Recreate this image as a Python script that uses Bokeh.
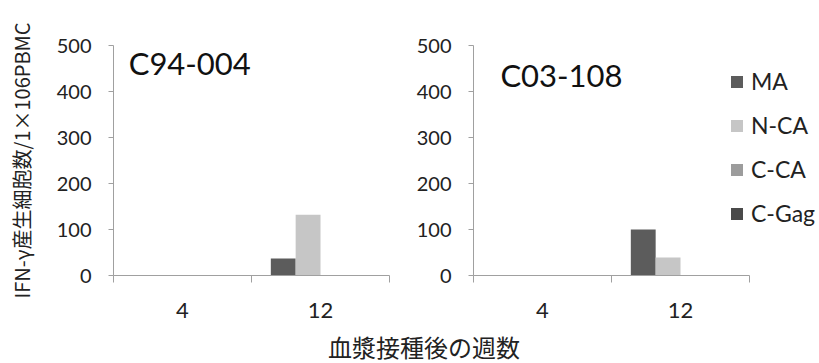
from bokeh.plotting import figure
from bokeh.layouts import row, column
from bokeh.models import Range1d, FixedTicker, Legend, LegendItem, Label, ColumnDataSource
from bokeh.embed import file_html
from bokeh.resources import INLINE

# ---- data ----
weeks = ["4", "12"]
series = ["MA", "N-CA", "C-CA", "C-Gag"]
colors = ["#5c5c5c", "#c6c6c6", "#9c9c9c", "#4a4a4a"]
c94_ma = [0, 37]
c94_nca = [0, 132]
c94_cca = [0, 0]
c94_cgag = [0, 0]
c03_ma = [0, 100]
c03_nca = [0, 39]
c03_cca = [0, 0]
c03_cgag = [0, 0]
y_ticks = [0, 100, 200, 300, 400, 500]
panel_titles = ["C94-004", "C03-108"]
y_label = "IFN-γ産生細胞数/1×106PBMC"
x_label = "血漿接種後の週数"

LAT = "Lato"
CJK = "Noto Sans CJK JP"
AX = "#a0a0a0"
TXT = "#222222"

offsets = [-0.27, -0.09, 0.09, 0.27]
bar_w = 0.18
FRAME_W = 276  # pixel width of the two-category axis


def make_panel(values, title, width, border_left, border_right, title_pos, ylabel=None):
    frame_w = width - border_left - border_right
    x_end = len(weeks) * frame_w / FRAME_W
    p = figure(width=width, height=330, x_range=Range1d(0, x_end), y_range=Range1d(0, 500),
               output_backend="svg", toolbar_location=None,
               min_border_left=border_left, min_border_right=border_right,
               min_border_top=45, min_border_bottom=55)
    p.xgrid.visible = False
    p.ygrid.visible = False
    p.outline_line_color = None
    p.background_fill_color = None
    p.border_fill_color = None
    renderers = []
    for vals, off, col in zip(values, offsets, colors):
        xs = [i + 0.5 + off for i in range(len(weeks))]
        src = ColumnDataSource(dict(x=xs, top=vals))
        r = p.vbar(x="x", top="top", width=bar_w, bottom=0, source=src,
                   fill_color=col, line_color=None)
        renderers.append(r)
    # x axis
    xa = p.xaxis[0]
    xa.bounds = (0, len(weeks))
    xa.ticker = FixedTicker(ticks=[i + 0.5 for i in range(len(weeks))],
                            minor_ticks=list(range(len(weeks) + 1)))
    xa.major_label_overrides = {i + 0.5: w for i, w in enumerate(weeks)}
    xa.major_tick_line_color = None
    xa.major_tick_out = 0
    xa.major_tick_in = 0
    xa.minor_tick_line_color = AX
    xa.minor_tick_out = 7
    xa.minor_tick_in = 0
    xa.axis_line_color = AX
    xa.major_label_text_font = LAT
    xa.major_label_text_font_size = "22px"
    xa.major_label_text_color = TXT
    xa.major_label_standoff = 20
    # y axis
    ya = p.yaxis[0]
    ya.ticker = FixedTicker(ticks=y_ticks, minor_ticks=[])
    ya.axis_line_color = AX
    ya.major_tick_line_color = AX
    ya.major_tick_out = 5
    ya.major_tick_in = 0
    ya.minor_tick_line_color = None
    ya.major_label_text_font = LAT
    ya.major_label_text_font_size = "20px"
    ya.major_label_text_color = TXT
    ya.major_label_standoff = 17
    if ylabel:
        ya.axis_label = ylabel
        ya.axis_label_text_font = CJK
        ya.axis_label_text_font_size = "20px"
        ya.axis_label_text_font_style = "normal"
        ya.axis_label_text_color = TXT
        ya.axis_label_standoff = 18
    p.add_layout(Label(x=title_pos[0], y=title_pos[1], text=title, text_font=LAT,
                       text_font_size="31px", text_color="#111111",
                       text_align="left", text_baseline="middle"))
    return p, renderers


p1, r1 = make_panel([c94_ma, c94_nca, c94_cca, c94_cgag], panel_titles[0], 400, 113, 11,
                    (0.11, 461), ylabel=y_label)
p2, r2 = make_panel([c03_ma, c03_nca, c03_cca, c03_cgag], panel_titles[1], 419, 73, 0,
                    (0.195, 435))

legend = Legend(items=[LegendItem(label=s, renderers=[r]) for s, r in zip(series, r2)],
                location=(256, 48), padding=0, margin=0, spacing=16,
                glyph_width=15, glyph_height=15, label_standoff=7, label_height=22,
                label_text_font=LAT, label_text_font_size="23px", label_text_color=TXT,
                border_line_color=None, background_fill_alpha=0)
p2.add_layout(legend)

p3 = figure(width=819, height=33, x_range=Range1d(0, 1), y_range=Range1d(0, 1),
            output_backend="svg", toolbar_location=None,
            min_border_left=0, min_border_right=0, min_border_top=0, min_border_bottom=0)
p3.axis.visible = False
p3.xgrid.visible = False
p3.ygrid.visible = False
p3.outline_line_color = None
p3.add_layout(Label(x=0.517, y=0.52, text=x_label, text_font=CJK, text_font_size="24px",
                    text_color=TXT, text_align="center", text_baseline="middle"))

layout = column(row(p1, p2), p3)
open("out.html", "w").write(file_html(layout, INLINE))
